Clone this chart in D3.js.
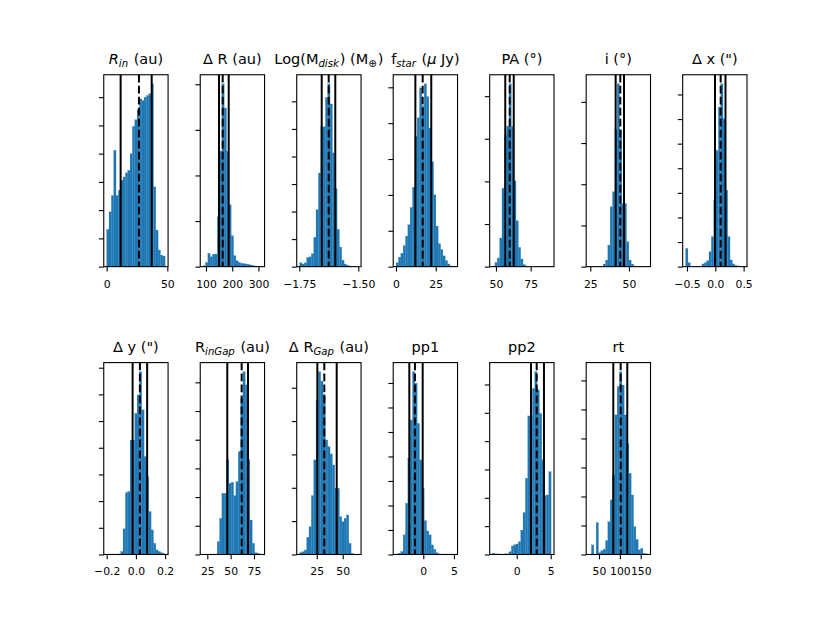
<!DOCTYPE html>
<html>
<head>
<meta charset="utf-8">
<script src="https://cdn.jsdelivr.net/npm/d3@7"></script>
<style>
  body { margin: 0; background: #fff; }
  svg text { font-family: "DejaVu Sans", sans-serif; }
</style>
</head>
<body>
<div id="vis"></div>
<script>

// Panel titles ($..$ = math italic, _{..} = subscript)
const titles = [
  "$R_{in}$ (au)", "Δ R (au)", "Log(M$_{disk}$) (M$_{⊕}$)", "f$_{star}$ ($μ$ Jy)",
  "PA (°)", "i (°)", "Δ x (\")",
  "Δ y (\")", "R$_{inGap}$ (au)", "Δ R$_{Gap}$ (au)", "pp1", "pp2", "rt"
];

// Histogram counts, 25 bins each
const countsRin   = [264, 388, 504, 824, 504, 541, 612, 635, 664, 682, 800, 993, 1040, 1111, 1188, 1176, 1200, 1212, 1224, 1294, 565, 259, 118, 82, 75];
const countsDR    = [11, 47, 146, 109, 138, 138, 546, 1267, 2004, 1740, 1267, 677, 339, 120, 66, 47, 36, 33, 29, 25, 18, 11, 7, 4, 4];
const countsMdisk = [28, 19, 28, 66, 71, 94, 213, 414, 680, 1015, 1015, 1228, 1327, 1181, 826, 566, 271, 142, 47, 19, 10, 5, 2, 1, 1];
const countsFstar = [22, 53, 75, 117, 170, 234, 330, 443, 727, 830, 997, 897, 1019, 948, 773, 585, 400, 226, 128, 95, 60, 34, 15, 4, 2];
const countsPA    = [4, 25, 51, 168, 460, 776, 824, 1072, 824, 503, 269, 113, 45, 12, 4, 0, 0, 0, 0, 0, 0, 0, 0, 0, 2];
const countsInc   = [2, 0, 0, 0, 0, 2, 16, 40, 131, 363, 454, 831, 1109, 831, 383, 383, 151, 40, 16, 4, 0, 0, 0, 0, 2];
const countsDx    = [74, 16, 0, 0, 0, 0, 0, 11, 16, 24, 61, 122, 270, 473, 649, 743, 601, 311, 122, 27, 11, 5, 3, 0, 1];
const countsDy    = [1, 1, 1, 1, 1, 2, 11, 96, 232, 236, 429, 429, 529, 598, 685, 542, 367, 292, 161, 92, 42, 17, 11, 7, 4];
const countsRgap  = [1, 0, 0, 0, 0, 1, 45, 126, 213, 213, 330, 248, 252, 205, 254, 359, 545, 637, 591, 330, 120, 39, 6, 4, 1];
const countsDRgap = [11, 17, 27, 103, 167, 353, 567, 923, 1096, 1040, 960, 687, 647, 603, 537, 397, 397, 227, 197, 217, 237, 67, 7, 2, 2];
const countsPp1   = [2, 5, 12, 80, 209, 393, 549, 746, 699, 535, 386, 270, 138, 96, 80, 39, 21, 7, 2, 0, 0, 0, 0, 0, 1];
const countsPp2   = [4, 2, 2, 1, 1, 2, 2, 10, 30, 34, 37, 45, 86, 148, 269, 489, 489, 586, 645, 581, 498, 334, 208, 210, 292];
const countsRt    = [1, 33, 1, 110, 6, 13, 18, 48, 113, 188, 274, 481, 579, 630, 584, 481, 383, 280, 205, 96, 52, 16, 21, 4, 2];

// Range covered by the bins (sample min / max)
const binLo = [0, 89.2, -1.7485, 0.09, 47.6, 24.24, -0.524, -0.2002, 20.57, 8.6, -4.43, -3.54, 26.3];
const binHi = [48.2, 312.2, -1.5007, 36.9, 89.7, 62.04, 0.508, 0.2003, 83.2, 64.8, 5.11, 5.06, 166.5];

// 16th / 50th / 84th percentiles
const q16 = [11.5, 149.6, -1.655, 12.2, 56.7, 41.4, -0.005, -0.0226, 46.4, 25.6, -2.28, 2.1, 84.3];
const q50 = [26.6, 163.7, -1.6254, 16.8, 59.9, 44.4, 0.095, 0.0274, 61.8, 32.3, -1.36, 2.94, 102];
const q84 = [37.1, 186.6, -1.5975, 22.2, 62.8, 46.8, 0.18, 0.077, 68.6, 44.2, -0.1, 4.01, 117.8];

// Tick values and labels
const xTickVals = [[0, 50], [100, 200, 300], [-1.75, -1.5], [0, 25], [50, 75], [25, 50], [-0.5, 0, 0.5],
                   [-0.2, 0, 0.2], [25, 50, 75], [25, 50], [0, 5], [0, 5], [50, 100, 150]];
const xTickLabels = [["0", "50"], ["100", "200", "300"], ["−1.75", "−1.50"], ["0", "25"], ["50", "75"], ["25", "50"], ["−0.5", "0.0", "0.5"],
                     ["−0.2", "0.0", "0.2"], ["25", "50", "75"], ["25", "50"], ["0", "5"], ["0", "5"], ["50", "100", "150"]];
const yTickStep = [200, 500, 200, 200, 250, 250, 100, 100, 100, 200, 100, 100, 100];

const panelCounts = [countsRin, countsDR, countsMdisk, countsFstar, countsPA, countsInc, countsDx,
                     countsDy, countsRgap, countsDRgap, countsPp1, countsPp2, countsRt];

// Figure layout (matplotlib-like subplot grid, 2 x 7, wspace = hspace = 0.5)
const W = 830, H = 623;
const gridLeft = 0.125 * W, gridRight = 0.9 * W;
const gridTop = 0.12 * H, gridBottom = 0.89 * H;
const ncol = 7, nrow = 2;
const pw = (gridRight - gridLeft) / (ncol + 0.5 * (ncol - 1));
const ph = (gridBottom - gridTop) / (nrow + 0.5 * (nrow - 1));
const barColor = "#1f77b4";
const tickLen = 4.86;

const svg = d3.select("#vis").append("svg")
    .attr("width", W)
    .attr("height", H);

svg.append("rect").attr("width", W).attr("height", H).attr("fill", "#fff");

// Split a title into runs of {text, italic, sub}
function parseTitle(s) {
  let runs = [], math = false, sub = false;
  for (let i = 0; i < s.length; i++) {
    let c = s[i];
    if (c === "$") { math = !math; continue; }
    if (c === "_" && s[i + 1] === "{") { sub = true; i++; continue; }
    if (c === "}" && sub) { sub = false; continue; }
    let italic = math && /[A-Za-zα-ωμ]/.test(c);
    let last = runs[runs.length - 1];
    if (last && last.italic === italic && last.sub === sub) last.text += c;
    else runs.push({text: c, italic: italic, sub: sub});
  }
  return runs;
}

panelCounts.forEach(function (counts, i) {
  let row = Math.floor(i / ncol), col = i % ncol;
  let gx = gridLeft + col * pw * 1.5,
      gy = gridTop + row * ph * 1.5;

  let lo = binLo[i], hi = binHi[i], R = hi - lo;
  let bw = R / counts.length;
  let ymax = d3.max(counts) * 1.05;

  let x = d3.scaleLinear().domain([lo - 0.05 * R, hi + 0.05 * R]).range([0, pw]);
  let y = d3.scaleLinear().domain([0, ymax]).range([ph, 0]);

  let g = svg.append("g").attr("transform", `translate(${gx},${gy})`);

  // Bars
  g.selectAll("rect.bar")
    .data(counts.map((c, k) => ({c: c, x0: lo + k * bw})).filter(d => d.c > 0))
    .enter().append("rect")
      .attr("class", "bar")
      .attr("x", d => x(d.x0))
      .attr("width", d => x(d.x0 + bw) - x(d.x0))
      .attr("y", d => y(d.c))
      .attr("height", d => ph - y(d.c))
      .attr("fill", barColor)
      .attr("stroke", barColor)
      .attr("stroke-width", 0.2);

  // Percentile lines
  [[q16[i], null], [q50[i], "7.7,3.3"], [q84[i], null]].forEach(function (q) {
    g.append("line")
      .attr("x1", x(q[0])).attr("x2", x(q[0]))
      .attr("y1", 0).attr("y2", ph)
      .attr("stroke", "#000")
      .attr("stroke-width", 2)
      .attr("stroke-dasharray", q[1]);
  });

  // Y axis: ticks only, no labels
  let yAxis = g.append("g")
    .call(d3.axisLeft(y)
      .tickValues(d3.range(0, ymax, yTickStep[i]))
      .tickFormat("")
      .tickSize(tickLen));
  yAxis.select(".domain").remove();
  yAxis.selectAll("line").attr("stroke-width", 1.1);

  // X axis
  let labels = xTickLabels[i];
  let xAxis = g.append("g")
    .attr("transform", `translate(0,${ph})`)
    .call(d3.axisBottom(x)
      .tickValues(xTickVals[i])
      .tickFormat((d, j) => labels[j])
      .tickSize(tickLen));
  xAxis.select(".domain").remove();
  xAxis.selectAll("line").attr("stroke-width", 1.1);
  xAxis.selectAll("text")
    .attr("y", 21).attr("dy", null)
    .attr("font-size", 10.8)
    .attr("font-family", "DejaVu Sans")
    .attr("fill", "#000");

  // Frame
  g.append("rect")
    .attr("width", pw).attr("height", ph)
    .attr("fill", "none")
    .attr("stroke", "#000")
    .attr("stroke-width", 1.1);

  // Title
  let fs = 14.5;
  let t = g.append("text")
    .attr("x", pw / 2).attr("y", -11)
    .attr("text-anchor", "middle")
    .attr("font-size", fs)
    .attr("fill", "#000");
  let shift = 0.22 * fs;
  let wasSub = false;
  parseTitle(titles[i]).forEach(function (r) {
    let ts = t.append("tspan").text(r.text)
      .attr("font-style", r.italic ? "italic" : "normal");
    if (r.sub) ts.attr("font-size", fs * 0.7);
    if (r.sub && !wasSub) ts.attr("dy", shift);
    if (!r.sub && wasSub) ts.attr("dy", -shift).attr("dx", 1);
    wasSub = r.sub;
  });
});

</script>
</body>
</html>
